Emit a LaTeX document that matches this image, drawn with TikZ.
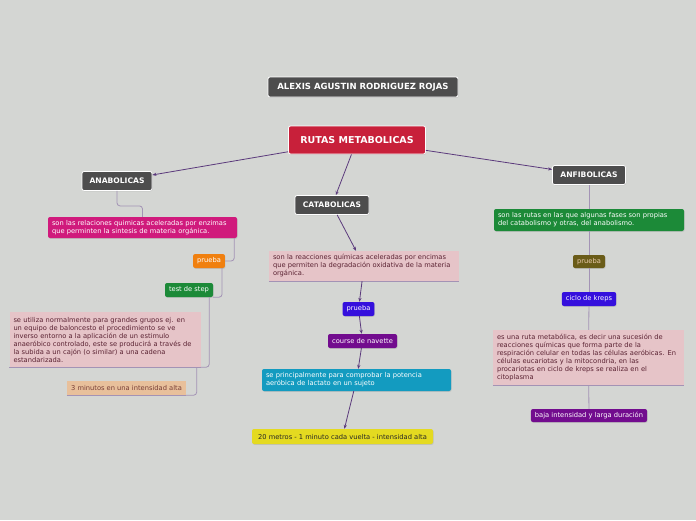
\documentclass[tikz,border=0pt]{standalone}
\usepackage{fontspec}
\setmainfont{DejaVu Sans}
\usetikzlibrary{arrows.meta,shadows}

\begin{document}
\begin{tikzpicture}[x=1pt,y=-1pt,
  caja/.style={rounded corners=2pt, inner xsep=4pt, inner ysep=2pt, align=left,
    text=white, font=\fontsize{6.7}{8}\selectfont,
    drop shadow={opacity=0.25, shadow xshift=0.6pt, shadow yshift=-0.8pt}},
  titulo/.style={caja, fill=colGris, draw=white, line width=0.8pt, align=center,
    font=\fontsize{7.6}{8}\selectfont\bfseries},
  nota/.style={inner xsep=4pt, inner ysep=2pt, align=left, fill=colRosa,
    text=colTxt, font=\fontsize{6.7}{8}\selectfont},
  flecha/.style={colLinea, line width=0.8pt, -{Stealth[length=4pt,width=3.2pt]}},
  rama/.style={colRama, line width=0.8pt, rounded corners=3pt}]

% Colores
\definecolor{colFondo}{HTML}{D4D6D3}
\definecolor{colGris}{HTML}{4D4D4D}
\definecolor{colRojo}{HTML}{C8203A}
\definecolor{colMagenta}{HTML}{D01A7C}
\definecolor{colNaranja}{HTML}{F0800F}
\definecolor{colVerde}{HTML}{1C8A38}
\definecolor{colRosa}{HTML}{E6C4C8}
\definecolor{colDurazno}{HTML}{E8C09B}
\definecolor{colAzul}{HTML}{3510DD}
\definecolor{colMorado}{HTML}{720C8E}
\definecolor{colCian}{HTML}{139BC0}
\definecolor{colAmarillo}{HTML}{E4DA20}
\definecolor{colOliva}{HTML}{6A5C18}
\definecolor{colTxt}{HTML}{5A2232}
\definecolor{colLinea}{HTML}{5B3A7C}
\definecolor{colRama}{HTML}{A393B5}

% Fondo
\fill[colFondo] (0,0) rectangle (696,520);
\useasboundingbox (0,0) rectangle (696,520);

% Encabezado
\node[titulo, font=\fontsize{8.5}{9}\selectfont\bfseries, minimum width=190pt, minimum height=20pt] (autor) at (363,87) {ALEXIS AGUSTIN RODRIGUEZ ROJAS};
\node[titulo, fill=colRojo, font=\fontsize{9.5}{10}\selectfont\bfseries, minimum width=137pt, minimum height=28pt] (raiz) at (357,140) {RUTAS METABOLICAS};

% Ramas principales
\node[titulo, minimum width=70pt, minimum height=19pt] (ana) at (117,181) {ANABOLICAS};
\node[titulo, minimum width=74pt, minimum height=19pt] (cata) at (332,205) {CATABOLICAS};
\node[titulo, minimum width=73pt, minimum height=19pt] (anfi) at (589,175) {ANFIBOLICAS};

% Anabolicas
\node[caja, fill=colMagenta, text width=181pt, minimum height=21pt] (anaDef) at (142.5,227.5)
  {son las relaciones quimicas aceleradas por enzimas\\que perminten la sintesis de materia orgánica.};
\node[caja, fill=colNaranja, minimum width=31pt, minimum height=14pt, align=center] (anaPrueba) at (209,261) {prueba};
\node[caja, fill=colVerde, minimum width=48pt, minimum height=14pt, align=center] (anaStep) at (189,290) {test de step};
\node[nota, text width=183pt, minimum height=55pt] (anaTexto) at (105,339.5)
  {se utiliza normalmente para grandes grupos ej. en\\un equipo de baloncesto el procedimiento se ve\\inverso entorno a la aplicación de un estimulo\\anaeróbico controlado, este se producirá a través de\\la subida a un cajón (o similar) a una cadena\\estandarizada.};
\node[nota, fill=colDurazno, text=colTxt!70!brown, minimum width=119pt, minimum height=14pt, align=center] (anaTiempo) at (126.5,388) {3 minutos en una intensidad alta};

% Catabolicas
\node[nota, text width=182pt, minimum height=30pt] (cataDef) at (364,266)
  {son la reacciones químicas aceleradas por encimas\\que permiten la degradación oxidativa de la materia\\orgánica.};
\node[caja, fill=colAzul, minimum width=31pt, minimum height=14pt, align=center] (cataPrueba) at (358.5,309) {prueba};
\node[caja, fill=colMorado, minimum width=69pt, minimum height=14pt, align=center] (cataNavette) at (362.5,341) {course de navette};
\node[caja, fill=colCian, text width=181pt, minimum height=22pt] (cataUso) at (356.5,380)
  {se principalmente para comprobar la potencia\\aeróbica de lactato en un sujeto};
\node[caja, fill=colAmarillo, text=black!85, minimum width=181pt, minimum height=15pt, align=center] (cataVuelta) at (342.5,436.5)
  {20 metros - 1 minuto cada vuelta - intensidad alta};

% Anfibolicas
\node[caja, fill=colVerde, text width=182pt, minimum height=22pt] (anfiDef) at (589,220)
  {son las rutas en las que algunas fases son propias\\del catabolismo y otras, del anabolismo.};
\node[caja, fill=colOliva, text=colDurazno!80!white, minimum width=32pt, minimum height=13pt, align=center] (anfiPrueba) at (589,261.5) {prueba};
\node[caja, fill=colAzul, minimum width=54pt, minimum height=14pt, align=center] (anfiKreps) at (589,299) {ciclo de kreps};
\node[nota, text width=183pt, minimum height=55pt] (anfiTexto) at (588.5,357.5)
  {es una ruta metabólica, es decir una sucesión de\\reacciones químicas que forma parte de la\\respiración celular en todas las células aeróbicas. En\\células eucariotas y la mitocondria, en las\\procariotas en ciclo de kreps se realiza en el\\citoplasma};
\node[caja, fill=colMorado, minimum width=116pt, minimum height=13pt, align=center] (anfiBaja) at (589,415.5) {baja intensidad y larga duración};

% Bordes inferiores de las notas
\foreach \n in {anaTexto,anaTiempo,cataDef,anfiTexto}
  \draw[colRama, line width=0.7pt] (\n.south west) -- (\n.south east);

% Flechas
\draw[flecha] (raiz) -- (ana);
\draw[flecha] (raiz) -- (cata);
\draw[flecha] (raiz) -- (anfi);
\draw[flecha] (cata) -- (cataDef);
\draw[flecha] (cataDef) -- (cataPrueba);
\draw[flecha] (cataPrueba) -- (cataNavette);
\draw[flecha] (cataNavette) -- (cataUso);
\draw[flecha] (cataUso) -- (cataVuelta);

% Ramas anabolicas
\draw[rama] (ana.south) -- ++(0,15) -| (anaDef.north);
\draw[rama] ([xshift=-3pt]anaDef.south east) |- (anaPrueba.east);
\draw[rama] ([xshift=-3pt]anaPrueba.south east) |- (anaStep.south east);
\draw[rama] ([xshift=-4pt]anaStep.south east) |- (anaTexto.south east);
\draw[rama] ([xshift=-4pt]anaTexto.south east) |- (anaTiempo.south east);

% Ramas anfibolicas
\draw[rama] (anfi) -- (anfiDef);
\draw[rama] (anfiDef) -- (anfiPrueba);
\draw[rama] (anfiPrueba) -- (anfiKreps);
\draw[rama] (anfiKreps) -- (anfiTexto);
\draw[rama] (anfiTexto) -- (anfiBaja);
\end{tikzpicture}
\end{document}
